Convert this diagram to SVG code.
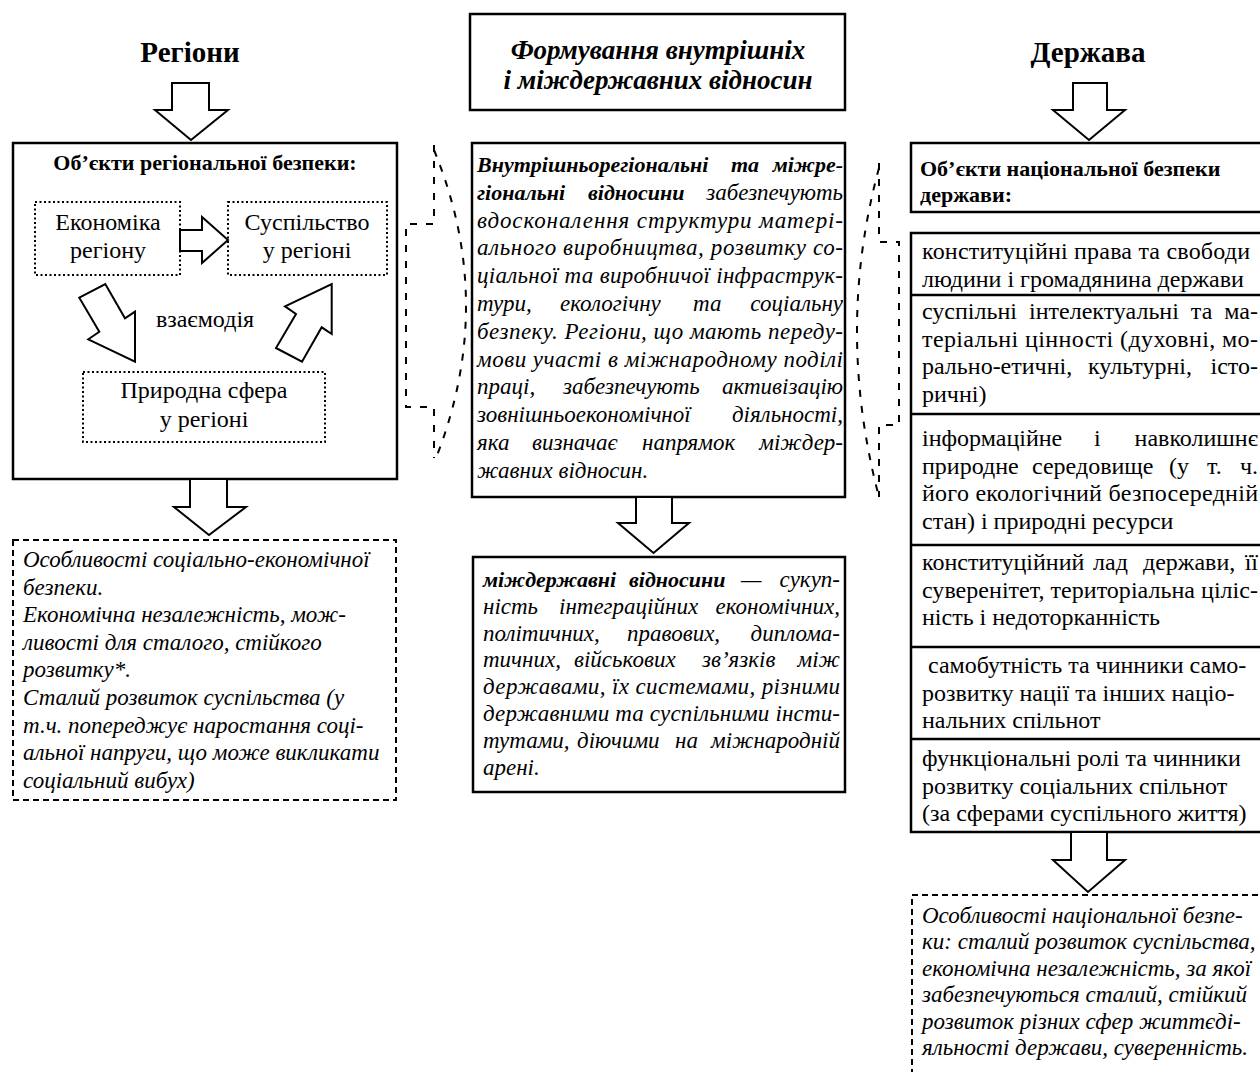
<svg xmlns="http://www.w3.org/2000/svg" width="1260" height="1072" viewBox="0 0 1260 1072">
<style>
text{font-family:"Liberation Serif","Times New Roman",serif;fill:#000}
.t{font-size:29px;font-weight:bold;text-anchor:middle}
.mt{font-size:27px;font-weight:bold;font-style:italic;text-anchor:middle}
.h{font-size:22px;font-weight:bold}
.r{font-size:24px}
.c{text-anchor:middle}
.e{text-anchor:end}
.i{font-size:23px;font-style:italic}
.bi{font-size:22px;font-style:italic;font-weight:bold}
.box{fill:#fff;stroke:#000;stroke-width:2.5}
.ln{stroke:#000;stroke-width:2.5}
.dot{fill:none;stroke:#000;stroke-width:2;stroke-dasharray:2 2.5}
.dash{fill:none;stroke:#000;stroke-width:2;stroke-dasharray:6 4}
.arr{fill:#fff;stroke:#000;stroke-width:2}
.br{fill:none;stroke:#000;stroke-width:2;stroke-dasharray:7 9}
</style>
<rect x="0" y="0" width="1260" height="1072" fill="#fff"/>

<!-- LEFT COLUMN -->
<g id="title-regions"><text class="t" x="190" y="62">Регіони</text></g>
<g id="regional-objects">
<rect class="box" x="13" y="143" width="384" height="336"/>
<text class="h c" x="205" y="170">Об’єкти регіональної безпеки:</text>
</g>
<g id="economy">
<rect class="dot" x="35" y="202" width="145" height="73"/>
<text class="r c" x="108" y="230">Економіка</text>
<text class="r c" x="108" y="258">регіону</text>
</g>
<g id="society">
<rect class="dot" x="228" y="202" width="159" height="73"/>
<text class="r c" x="307" y="230">Суспільство</text>
<text class="r c" x="307" y="258">у регіоні</text>
</g>
<g id="nature">
<rect class="dot" x="83" y="372" width="242" height="70"/>
<text class="r c" x="204" y="398">Природна сфера</text>
<text class="r c" x="204" y="427">у регіоні</text>
</g>
<g id="regional-features">
<rect class="dash" x="13" y="540" width="383" height="260"/>
<text class="i" x="23" y="567">Особливості соціально-економічної</text>
<text class="i" x="23" y="594.6">безпеки.</text>
<text class="i" x="23" y="622.2">Економічна незалежність, мож-</text>
<text class="i" x="23" y="649.8">ливості для сталого, стійкого</text>
<text class="i" x="23" y="677.4">розвитку*.</text>
<text class="i" x="23" y="705">Сталий розвиток суспільства (у</text>
<text class="i" x="23" y="732.6">т.ч. попереджує наростання соці-</text>
<text class="i" x="23" y="760.2">альної напруги, що може викликати</text>
<text class="i" x="23" y="787.8">соціальний вибух)</text>
</g>

<!-- MIDDLE COLUMN -->
<g id="title-relations">
<rect class="box" x="470" y="14" width="375" height="96"/>
<text class="mt" x="658" y="59">Формування внутрішніх</text>
<text class="mt" x="658" y="89">і міждержавних відносин</text>
</g>
<g id="interregional">
<rect class="box" x="472" y="143" width="373" height="354"/>
<text class="bi" x="477" y="172">Внутрішньорегіональні</text>
<text class="bi" x="731" y="172">та</text>
<text class="bi e" x="843" y="172">міжре-</text>
<text class="bi" x="477" y="199.8">гіональні</text>
<text class="bi" x="588" y="199.8">відносини</text>
<text class="i e" x="843" y="199.8">забезпечують</text>
<text class="i" x="477" y="227.6" textLength="366" lengthAdjust="spacing">вдосконалення структури матері-</text>
<text class="i" x="477" y="255.4" textLength="366" lengthAdjust="spacing">ального виробництва, розвитку со-</text>
<text class="i" x="477" y="283.2" textLength="366" lengthAdjust="spacing">ціальної та виробничої інфраструк-</text>
<text class="i" x="477" y="311">тури,</text>
<text class="i" x="560" y="311">екологічну</text>
<text class="i" x="693" y="311">та</text>
<text class="i e" x="843" y="311">соціальну</text>
<text class="i" x="477" y="338.8" textLength="366" lengthAdjust="spacing">безпеку. Регіони, що мають переду-</text>
<text class="i" x="477" y="366.6" textLength="366" lengthAdjust="spacing">мови участі в міжнародному поділі</text>
<text class="i" x="477" y="394.4">праці,</text>
<text class="i" x="563" y="394.4">забезпечують</text>
<text class="i e" x="843" y="394.4">активізацію</text>
<text class="i" x="477" y="422.2">зовнішньоекономічної</text>
<text class="i e" x="843" y="422.2">діяльності,</text>
<text class="i" x="477" y="450">яка</text>
<text class="i" x="532" y="450">визначає</text>
<text class="i" x="642" y="450">напрямок</text>
<text class="i e" x="843" y="450">міждер-</text>
<text class="i" x="477" y="477.8">жавних відносин.</text>
</g>
<g id="interstate">
<rect class="box" x="473" y="557" width="372" height="235"/>
<text class="bi" x="483" y="587">міждержавні</text>
<text class="bi" x="629" y="587">відносини</text>
<text class="i" x="741" y="587">—</text>
<text class="i e" x="840" y="587">сукуп-</text>
<text class="i" x="483" y="613.8">ність</text>
<text class="i" x="559" y="613.8">інтеграційних</text>
<text class="i e" x="840" y="613.8">економічних,</text>
<text class="i" x="483" y="640.6">політичних,</text>
<text class="i" x="627" y="640.6">правових,</text>
<text class="i e" x="840" y="640.6">диплома-</text>
<text class="i" x="483" y="667.4">тичних,</text>
<text class="i" x="574" y="667.4">військових</text>
<text class="i" x="702" y="667.4">зв’язків</text>
<text class="i e" x="840" y="667.4">між</text>
<text class="i" x="483" y="694.2" textLength="357" lengthAdjust="spacing">державами, їх системами, різними</text>
<text class="i" x="483" y="721" textLength="357" lengthAdjust="spacing">державними та суспільними інсти-</text>
<text class="i" x="483" y="747.8">тутами,</text>
<text class="i" x="577" y="747.8">діючими</text>
<text class="i" x="675" y="747.8">на</text>
<text class="i e" x="840" y="747.8">міжнародній</text>
<text class="i" x="483" y="774.6">арені.</text>
</g>

<!-- RIGHT COLUMN -->
<g id="title-state"><text class="t" x="1088" y="62">Держава</text></g>
<g id="national-objects">
<rect class="box" x="911" y="143" width="360" height="69"/>
<text class="h" x="920" y="176">Об’єкти національної безпеки</text>
<text class="h" x="920" y="202">держави:</text>
</g>
<g id="national-items">
<rect class="box" x="911" y="233" width="360" height="599"/>
<line class="ln" x1="911" y1="295" x2="1262" y2="295"/>
<line class="ln" x1="911" y1="414" x2="1262" y2="414"/>
<line class="ln" x1="911" y1="545" x2="1262" y2="545"/>
<line class="ln" x1="911" y1="647" x2="1262" y2="647"/>
<line class="ln" x1="911" y1="739" x2="1262" y2="739"/>
<text class="r" x="922" y="259" textLength="328" lengthAdjust="spacing">конституційні права та свободи</text>
<text class="r" x="922" y="286.6">людини і громадянина держави</text>
<text class="r" x="922" y="319" textLength="336" lengthAdjust="spacing" word-spacing="6">суспільні інтелектуальні та ма-</text>
<text class="r" x="922" y="346.6" textLength="336" lengthAdjust="spacing">теріальні цінності (духовні, мо-</text>
<text class="r" x="922" y="374.2">рально-етичні,</text>
<text class="r" x="1088" y="374.2">культурні,</text>
<text class="r e" x="1258" y="374.2">істо-</text>
<text class="r" x="922" y="401.8">ричні)</text>
<text class="r" x="922" y="446">інформаційне</text>
<text class="r" x="1094" y="446">і</text>
<text class="r e" x="1258" y="446">навколишнє</text>
<text class="r" x="922" y="473.6">природне</text>
<text class="r" x="1032" y="473.6">середовище</text>
<text class="r" x="1169" y="473.6">(у</text>
<text class="r" x="1207" y="473.6">т.</text>
<text class="r e" x="1258" y="473.6">ч.</text>
<text class="r" x="922" y="501.2" textLength="336" lengthAdjust="spacing">його екологічний безпосередній</text>
<text class="r" x="922" y="528.8">стан) і природні ресурси</text>
<text class="r" x="922" y="570">конституційний</text>
<text class="r" x="1093" y="570">лад</text>
<text class="r" x="1143" y="570">держави,</text>
<text class="r e" x="1258" y="570">її</text>
<text class="r" x="922" y="597.6" textLength="336" lengthAdjust="spacing">суверенітет, територіальна ціліс-</text>
<text class="r" x="922" y="625.2">ність і недоторканність</text>
<text class="r" x="928" y="673">самобутність та чинники само-</text>
<text class="r" x="922" y="700.6">розвитку нації та інших націо-</text>
<text class="r" x="922" y="728.2">нальних спільнот</text>
<text class="r" x="922" y="766">функціональні ролі та чинники</text>
<text class="r" x="922" y="793.6">розвитку соціальних спільнот</text>
<text class="r" x="922" y="821.2">(за сферами суспільного життя)</text>
</g>
<g id="national-features">
<rect class="dash" x="912" y="895" width="360" height="200"/>
<text class="i" x="922" y="923">Особливості національної безпе-</text>
<text class="i" x="922" y="949.4">ки: сталий розвиток суспільства,</text>
<text class="i" x="922" y="975.8">економічна незалежність, за якої</text>
<text class="i" x="922" y="1002.2">забезпечуються сталий, стійкий</text>
<text class="i" x="922" y="1028.6">розвиток різних сфер життєді-</text>
<text class="i" x="922" y="1055">яльності держави, суверенність.</text>
</g>

<!-- CONNECTORS -->
<g id="connectors">
<polygon class="arr" points="172,83 209,83 209,110 228,110 191,140 155,110 172,110"/>
<polygon class="arr" points="180,230 202,230 202,217 228,240 202,263 202,251 180,251"/>
<polygon class="arr" points="79.3,297.7 105.3,284 125,318.3 135,311.7 135,361.7 88.3,339.3 99.3,331.7"/>
<polygon class="arr" points="276,348 302,361.7 321.7,327.3 331.7,334 331.7,284 285,306.3 296,314"/>
<text class="r c" x="205" y="327">взаємодія</text>
<polygon class="arr" points="190,479 227,479 227,507 246,507 209,535 174,507 190,507"/>
<polygon class="arr" points="636,497 672,497 672,523 689,523 653.5,553 618,523 636,523"/>
<polygon class="arr" points="1073,83 1107,83 1107,110 1125,110 1089,140 1053,110 1073,110"/>
<polygon class="arr" points="1071,832 1107,832 1107,860 1125,860 1088,892 1053,860 1071,860"/>
<path class="br" d="M434,145 V224 H406 V407 H434 V458"/>
<path class="br" d="M434,150 Q497,303 436,458"/>
<path class="br" d="M879,163 V242 H899 V425 H879 V497"/>
<path class="br" d="M879,168 Q835,330 879,497"/>
</g>
</svg>
